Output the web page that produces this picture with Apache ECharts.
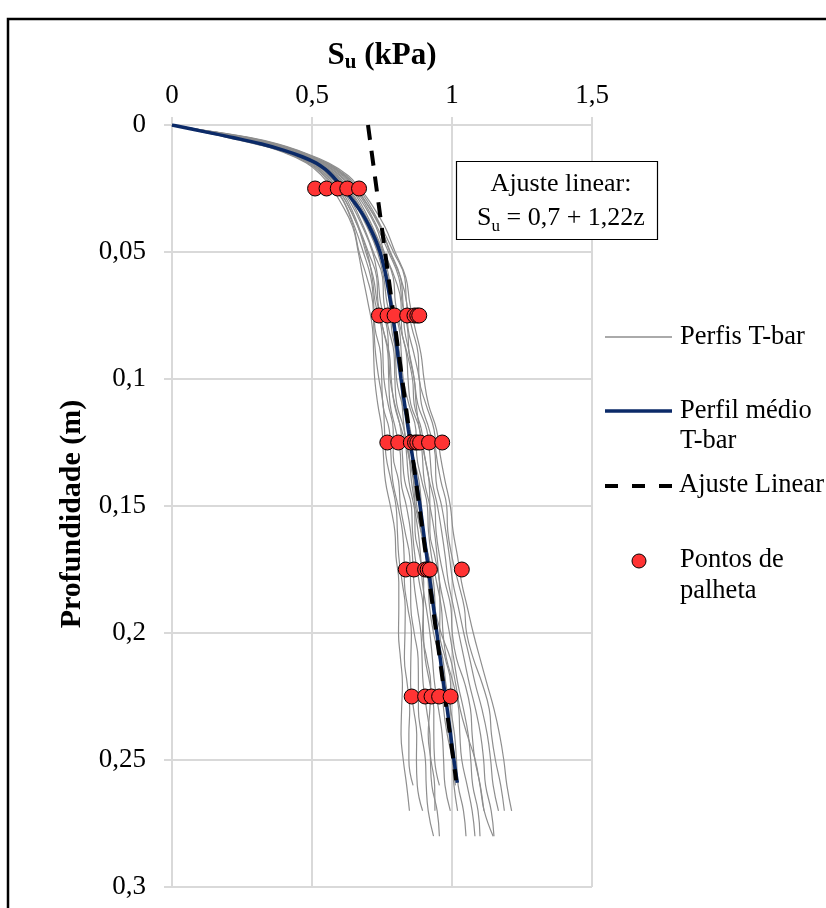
<!DOCTYPE html>
<html>
<head>
<meta charset="utf-8">
<script src="https://cdn.jsdelivr.net/npm/echarts@6/dist/echarts.min.js"></script>
<style>
  html, body { margin: 0; padding: 0; background: #ffffff; }
  #chart { width: 826px; height: 908px; }
</style>
</head>
<body>
<div id="chart"></div>
<script>
// Depth grid (m) shared by the individual T-bar profiles
const DEPTHS = [0, 0.0025, 0.005, 0.0075, 0.01, 0.015, 0.02, 0.025, 0.03, 0.04, 0.05,
  0.06, 0.07, 0.08, 0.09, 0.10, 0.11, 0.12, 0.13, 0.14, 0.15, 0.16, 0.17, 0.18, 0.19,
  0.20, 0.21, 0.22, 0.23, 0.24, 0.25, 0.26, 0.27, 0.28];

// Undrained strength Su (kPa) of each T-bar profile, one value per depth above
const PERFIS_TBAR = [
  [0, 0.10, 0.20, 0.30, 0.38, 0.48, 0.535, 0.57, 0.60, 0.645, 0.665, 0.682, 0.70, 0.716, 0.72, 0.724, 0.735, 0.75, 0.755, 0.762, 0.78, 0.796, 0.80, 0.81, 0.81, 0.809, 0.816, 0.823, 0.82, 0.818, 0.826, 0.838, 0.848],
  [0, 0.103, 0.206, 0.306, 0.385, 0.486, 0.542, 0.577, 0.612, 0.648, 0.668, 0.696, 0.717, 0.721, 0.727, 0.739, 0.754, 0.759, 0.764, 0.782, 0.80, 0.805, 0.81, 0.822, 0.833, 0.832, 0.83, 0.84, 0.849, 0.846, 0.846, 0.861],
  [0, 0.105, 0.21, 0.31, 0.389, 0.49, 0.547, 0.583, 0.614, 0.652, 0.683, 0.71, 0.72, 0.725, 0.745, 0.749, 0.753, 0.776, 0.782, 0.788, 0.807, 0.823, 0.829, 0.83, 0.842, 0.855, 0.853, 0.852, 0.863, 0.874, 0.873, 0.876, 0.895],
  [0, 0.108, 0.216, 0.316, 0.394, 0.496, 0.554, 0.59, 0.621, 0.664, 0.697, 0.715, 0.726, 0.748, 0.753, 0.757, 0.772, 0.79, 0.79, 0.809, 0.816, 0.832, 0.849, 0.852, 0.853, 0.865, 0.879, 0.88, 0.88, 0.891, 0.905, 0.908, 0.915, 0.934],
  [0, 0.111, 0.222, 0.322, 0.399, 0.502, 0.561, 0.597, 0.628, 0.667, 0.701, 0.731, 0.736, 0.753, 0.771, 0.774, 0.779, 0.799, 0.816, 0.818, 0.837, 0.852, 0.859, 0.864, 0.876, 0.889, 0.893, 0.897, 0.909, 0.921, 0.923, 0.928, 0.947, 0.955],
  [0, 0.113, 0.226, 0.326, 0.403, 0.506, 0.566, 0.603, 0.635, 0.68, 0.716, 0.735, 0.745, 0.768, 0.774, 0.779, 0.796, 0.817, 0.823, 0.831, 0.855, 0.859, 0.868, 0.883, 0.897, 0.898, 0.904, 0.921, 0.935, 0.935, 0.938, 0.955],
  [0, 0.116, 0.232, 0.332, 0.408, 0.512, 0.573, 0.61, 0.642, 0.684, 0.719, 0.752, 0.757, 0.773, 0.793, 0.796, 0.803, 0.829, 0.838, 0.846, 0.864, 0.879, 0.888, 0.894, 0.908, 0.921, 0.93, 0.938, 0.952, 0.965, 0.97, 0.975, 0.994],
  [0, 0.119, 0.238, 0.338, 0.413, 0.518, 0.58, 0.617, 0.649, 0.696, 0.734, 0.756, 0.768, 0.79, 0.798, 0.802, 0.822, 0.845, 0.847, 0.865, 0.874, 0.889, 0.908, 0.915, 0.92, 0.934, 0.955, 0.965, 0.97, 0.983, 1.001, 1.007, 1.02],
  [0, 0.121, 0.242, 0.342, 0.417, 0.522, 0.585, 0.623, 0.656, 0.70, 0.737, 0.77, 0.777, 0.794, 0.813, 0.819, 0.828, 0.851, 0.861, 0.882, 0.891, 0.896, 0.917, 0.934, 0.94, 0.945, 0.967, 0.978, 0.995, 1.009, 1.016, 1.022, 1.041, 1.05],
  [0, 0.124, 0.248, 0.348, 0.422, 0.528, 0.592, 0.63, 0.663, 0.712, 0.752, 0.775, 0.787, 0.811, 0.819, 0.826, 0.846, 0.871, 0.874, 0.892, 0.912, 0.916, 0.927, 0.945, 0.962, 0.968, 0.98, 1.005, 1.024, 1.028, 1.035, 1.054, 1.072, 1.082],
  [0, 0.127, 0.254, 0.354, 0.427, 0.534, 0.599, 0.637, 0.67, 0.716, 0.755, 0.79, 0.798, 0.816, 0.837, 0.843, 0.853, 0.885, 0.894, 0.901, 0.921, 0.937, 0.947, 0.956, 0.974, 0.991, 1.006, 1.021, 1.041, 1.058, 1.067, 1.074, 1.093, 1.10],
  [0, 0.129, 0.258, 0.358, 0.431, 0.538, 0.604, 0.643, 0.677, 0.728, 0.758, 0.795, 0.818, 0.82, 0.84, 0.859, 0.865, 0.891, 0.902, 0.919, 0.939, 0.943, 0.956, 0.975, 0.996, 1.001, 1.016, 1.046, 1.066, 1.072, 1.082, 1.101, 1.114],
  [0, 0.132, 0.264, 0.364, 0.436, 0.544, 0.611, 0.65, 0.684, 0.732, 0.773, 0.81, 0.822, 0.841, 0.847, 0.865, 0.878, 0.91, 0.921, 0.929, 0.948, 0.963, 0.976, 0.987, 1.006, 1.024, 1.043, 1.062, 1.084, 1.102, 1.113, 1.12, 1.14, 1.15],
  [0, 0.135, 0.27, 0.37, 0.441, 0.55, 0.618, 0.657, 0.691, 0.744, 0.778, 0.816, 0.838, 0.843, 0.864, 0.883, 0.891, 0.919, 0.94, 0.943, 0.963, 0.978, 0.991, 1.003, 1.023, 1.042, 1.063, 1.083, 1.107, 1.126, 1.138, 1.147, 1.166],
  [0, 0.137, 0.274, 0.374, 0.445, 0.554, 0.623, 0.663, 0.698, 0.747, 0.791, 0.831, 0.838, 0.857, 0.879, 0.883, 0.907, 0.936, 0.944, 0.96, 0.981, 0.985, 1.0, 1.022, 1.044, 1.052, 1.076, 1.108, 1.133, 1.141, 1.155, 1.174, 1.187],
  [0, 0.14, 0.28, 0.38, 0.45, 0.56, 0.63, 0.67, 0.705, 0.76, 0.797, 0.835, 0.849, 0.868, 0.889, 0.90, 0.916, 0.945, 0.958, 0.975, 0.994, 1.004, 1.02, 1.034, 1.055, 1.076, 1.10, 1.125, 1.15, 1.17, 1.185, 1.196, 1.213],
  [0, 0.122, 0.244, 0.344, 0.419, 0.524, 0.587, 0.625, 0.658, 0.706, 0.739, 0.771, 0.78, 0.784, 0.802, 0.817, 0.822, 0.83, 0.846, 0.862, 0.867, 0.868, 0.885, 0.899, 0.898, 0.895, 0.91, 0.924, 0.921, 0.915, 0.925, 0.938, 0.939],
  [0, 0.108, 0.216, 0.316, 0.394, 0.496, 0.554, 0.59, 0.621, 0.664, 0.692, 0.719, 0.733, 0.753, 0.776, 0.783, 0.794, 0.82, 0.845, 0.855, 0.869, 0.89, 0.916, 0.928, 0.938, 0.961, 0.994, 1.013, 1.029, 1.054, 1.083, 1.10, 1.115, 1.147],
  [0, 0.134, 0.268, 0.368, 0.44, 0.548, 0.616, 0.655, 0.689, 0.742, 0.78, 0.816, 0.825, 0.83, 0.848, 0.865, 0.872, 0.884, 0.901, 0.918, 0.921, 0.921, 0.939, 0.955, 0.957, 0.956, 0.976, 0.995, 0.994, 0.99, 1.002, 1.012]
];

// Mean T-bar profile
const MEDIO_DEPTH = [0, 0.0025, 0.005, 0.0075, 0.01, 0.0125, 0.015, 0.0175, 0.02, 0.025, 0.03,
  0.035, 0.04, 0.045, 0.05, 0.055, 0.06, 0.07, 0.08, 0.09, 0.10, 0.11, 0.12, 0.13, 0.14,
  0.15, 0.16, 0.17, 0.18, 0.19, 0.20, 0.21, 0.22, 0.23, 0.24, 0.25, 0.259];
const MEDIO_SU = [0, 0.11, 0.22, 0.32, 0.40, 0.465, 0.515, 0.548, 0.572, 0.612, 0.648,
  0.68, 0.705, 0.726, 0.743, 0.755, 0.765, 0.781, 0.795, 0.806, 0.818, 0.831, 0.844, 0.858, 0.872,
  0.886, 0.898, 0.910, 0.922, 0.934, 0.946, 0.958, 0.97, 0.983, 0.995, 1.007, 1.019];

// Linear fit Su = 0,7 + 1,22z over the profiled depth
const AJUSTE_A = 0.7;
const AJUSTE_B = 1.22;
const AJUSTE_DEPTH = [0, 0.258];

// Vane test points (depth, Su values)
const PALHETA_DEPTH = [0.025, 0.075, 0.125, 0.175, 0.225];
const PALHETA_SU = [
  [0.511, 0.552, 0.592, 0.626, 0.668],
  [0.739, 0.770, 0.795, 0.840, 0.866, 0.876, 0.883],
  [0.769, 0.808, 0.853, 0.868, 0.876, 0.886, 0.918, 0.965],
  [0.835, 0.864, 0.904, 0.913, 0.921, 1.035],
  [0.856, 0.904, 0.927, 0.954, 0.995]
];

const FONT = '"Liberation Serif", "Times New Roman", serif';
const GRID_GRAY = '#d9d9d9';
const NAVY = '#0b2a68';
const RED = '#ff3333';
const GRAY_LINE = '#8e8e8e';

const comma = v => String(+Number(v).toFixed(3)).replace('.', ',');

const series = [];
PERFIS_TBAR.forEach(p => {
  series.push({
    type: 'line',
    data: p.map((su, k) => [su, DEPTHS[k]]),
    showSymbol: false,
    smooth: 0.45,
    lineStyle: { color: GRAY_LINE, width: 1.2 },
    z: 2,
    silent: true
  });
});
series.push({
  type: 'line',
  data: MEDIO_SU.map((su, k) => [su, MEDIO_DEPTH[k]]),
  showSymbol: false,
  smooth: 0.4,
  lineStyle: { color: NAVY, width: 3.5 },
  z: 3,
  silent: true
});
series.push({
  type: 'line',
  data: AJUSTE_DEPTH.map(z => [AJUSTE_A + AJUSTE_B * z, z]),
  showSymbol: false,
  lineStyle: { color: '#000000', width: 4, type: [15, 11] },
  z: 4,
  silent: true
});
const palhetaData = [];
PALHETA_DEPTH.forEach((z, i) => PALHETA_SU[i].forEach(su => palhetaData.push([su, z])));
series.push({
  type: 'scatter',
  data: palhetaData,
  symbol: 'circle',
  symbolSize: 15,
  itemStyle: { color: RED, borderColor: '#000000', borderWidth: 1, opacity: 1 },
  z: 5,
  silent: true
});

const axisGray = { lineStyle: { color: GRID_GRAY, width: 2 } };
const LEGEND_FONT = 26.5;

const option = {
  animation: false,
  backgroundColor: '#ffffff',
  grid: { left: 172, top: 125, width: 420, height: 762, containLabel: false },
  xAxis: {
    type: 'value',
    position: 'top',
    min: 0, max: 1.5, interval: 0.5,
    axisLine: { show: true, ...axisGray },
    axisTick: { show: true, length: 8, ...axisGray },
    splitLine: { show: true, ...axisGray },
    axisLabel: { fontFamily: FONT, fontSize: 27, color: '#000', margin: 16, formatter: comma },
    name: '{b|S}{s|u}{b| (kPa)}',
    nameLocation: 'middle',
    nameGap: 52,
    nameTextStyle: {
      rich: {
        b: { fontFamily: FONT, fontSize: 31, fontWeight: 'bold', color: '#000', lineHeight: 34 },
        s: { fontFamily: FONT, fontSize: 21, fontWeight: 'bold', color: '#000', verticalAlign: 'bottom', lineHeight: 20 }
      }
    }
  },
  yAxis: {
    type: 'value',
    inverse: true,
    min: 0, max: 0.3, interval: 0.05,
    axisLine: { show: true, ...axisGray },
    axisTick: { show: true, length: 8, ...axisGray },
    splitLine: { show: true, ...axisGray },
    axisLabel: { fontFamily: FONT, fontSize: 27, color: '#000', margin: 26, formatter: comma },
    name: 'Profundidade (m)',
    nameLocation: 'middle',
    nameGap: 85,
    nameTextStyle: { fontFamily: FONT, fontSize: 30, fontWeight: 'bold', color: '#000', padding: [0, 16, 0, 0] }
  },
  series: series,
  graphic: [
    { type: 'rect', silent: true, z: 100,
      shape: { x: 8, y: 19, width: 840, height: 910 },
      style: { fill: 'none', stroke: '#000000', lineWidth: 2.5 } },
    // annotation box with the fitted equation
    { type: 'rect', silent: true, z: 100,
      shape: { x: 456.5, y: 161.5, width: 201, height: 78 },
      style: { fill: '#ffffff', stroke: '#000000', lineWidth: 1.2 } },
    { type: 'text', silent: true, z: 101, x: 561, y: 201,
      style: {
        text: 'Ajuste linear:\n{m|S}{u|u}{m| = 0,7 + 1,22z}',
        fontFamily: FONT, fontSize: 26, fill: '#000', lineHeight: 34,
        align: 'center', verticalAlign: 'middle', textAlign: 'center', textVerticalAlign: 'middle',
        rich: {
          m: { fontFamily: FONT, fontSize: 26, fill: '#000', lineHeight: 34 },
          u: { fontFamily: FONT, fontSize: 17, fill: '#000', verticalAlign: 'bottom', lineHeight: 24 }
        }
      } },
    // legend
    { type: 'line', silent: true, z: 100,
      shape: { x1: 605, y1: 337, x2: 672, y2: 337 },
      style: { stroke: GRAY_LINE, lineWidth: 1.3 } },
    { type: 'text', silent: true, z: 100, x: 680, y: 337,
      style: { text: 'Perfis T-bar', fontFamily: FONT, fontSize: LEGEND_FONT, fill: '#000',
        align: 'left', verticalAlign: 'middle', textAlign: 'left', textVerticalAlign: 'middle' } },
    { type: 'line', silent: true, z: 100,
      shape: { x1: 605, y1: 411, x2: 672, y2: 411 },
      style: { stroke: NAVY, lineWidth: 3.5 } },
    { type: 'text', silent: true, z: 100, x: 680, y: 426,
      style: { text: 'Perfil médio\nT-bar', fontFamily: FONT, fontSize: LEGEND_FONT, fill: '#000', lineHeight: 30,
        align: 'left', verticalAlign: 'middle', textAlign: 'left', textVerticalAlign: 'middle' } },
    { type: 'line', silent: true, z: 100,
      shape: { x1: 605, y1: 486, x2: 672, y2: 486 },
      style: { stroke: '#000000', lineWidth: 4, lineDash: [13, 14] } },
    { type: 'text', silent: true, z: 100, x: 679, y: 485,
      style: { text: 'Ajuste Linear', fontFamily: FONT, fontSize: LEGEND_FONT, fill: '#000',
        align: 'left', verticalAlign: 'middle', textAlign: 'left', textVerticalAlign: 'middle' } },
    { type: 'circle', silent: true, z: 100,
      shape: { cx: 639, cy: 561, r: 7 },
      style: { fill: RED, stroke: '#000000', lineWidth: 1 } },
    { type: 'text', silent: true, z: 100, x: 680, y: 576,
      style: { text: 'Pontos de\npalheta', fontFamily: FONT, fontSize: LEGEND_FONT, fill: '#000', lineHeight: 31,
        align: 'left', verticalAlign: 'middle', textAlign: 'left', textVerticalAlign: 'middle' } }
  ]
};

const chart = echarts.init(document.getElementById('chart'), null, { renderer: 'canvas' });
chart.setOption(option);
</script>
</body>
</html>
